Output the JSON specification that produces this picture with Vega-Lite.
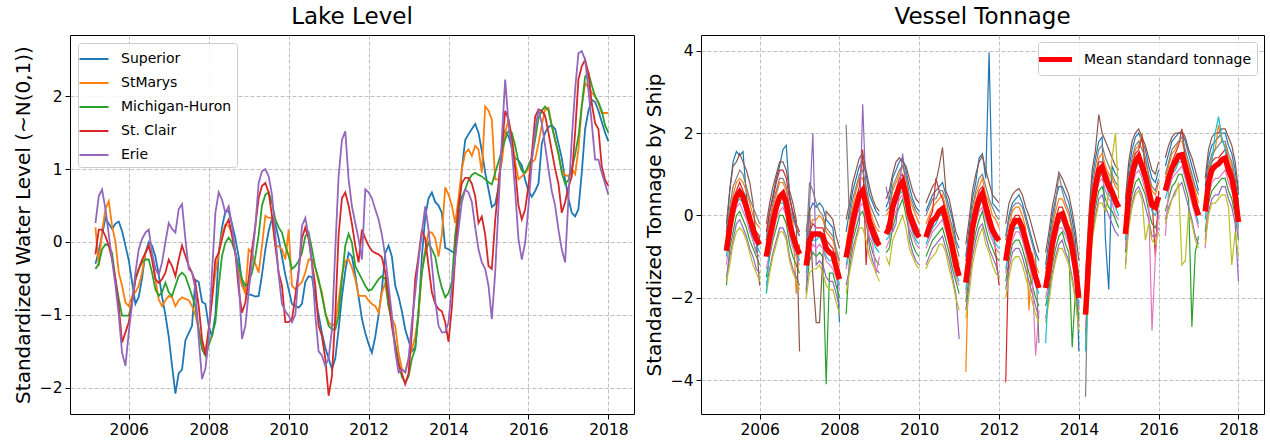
{
"$schema": "https://vega.github.io/schema/vega-lite/v6.json",
"padding": {"left": 12, "right": 2, "top": 5, "bottom": 2},
"spacing": 8,
"config": {
 "font": "DejaVu Sans",
 "view": {"stroke": "#000", "strokeWidth": 1},
 "axis": {"labelFont": "DejaVu Sans", "titleFont": "DejaVu Sans", "labelFontSize": 15.5, "titleFontSize": 20, "titleFontWeight": "normal", "labelColor": "#000", "titleColor": "#000", "tickColor": "#000", "tickSize": 5, "tickWidth": 1, "labelPadding": 3, "gridColor": "#b0b0b0", "gridDash": [4, 2], "gridWidth": 0.8, "domain": false},
 "title": {"font": "DejaVu Sans", "fontSize": 23, "fontWeight": "normal", "color": "#000", "offset": 6},
 "legend": {"labelFont": "DejaVu Sans", "labelFontSize": 14, "labelColor": "#000", "labelLimit": 400}
},
"hconcat": [
{
 "width": 564, "height": 379,
 "title": "Lake Level",
 "data": {"values": [
{"t":2005.167,"a":-0.30,"b":0.20,"c":-0.37,"d":-0.17,"e":0.26},
{"t":2005.25,"a":-0.12,"b":-0.33,"c":-0.30,"d":0.17,"e":0.63},
{"t":2005.333,"a":0.10,"b":0.15,"c":-0.10,"d":0.17,"e":0.72},
{"t":2005.417,"a":0.33,"b":0.45,"c":-0.03,"d":0.08,"e":0.45},
{"t":2005.5,"a":0.25,"b":0.56,"c":-0.05,"d":-0.05,"e":0.10},
{"t":2005.583,"a":0.18,"b":0.22,"c":-0.15,"d":-0.24,"e":-0.25},
{"t":2005.667,"a":0.25,"b":0.00,"c":-0.51,"d":-0.51,"e":-0.60},
{"t":2005.75,"a":0.28,"b":-0.42,"c":-0.78,"d":-0.88,"e":-1.00},
{"t":2005.833,"a":0.15,"b":-0.60,"c":-1.01,"d":-1.38,"e":-1.52},
{"t":2005.917,"a":-0.05,"b":-0.83,"c":-1.01,"d":-1.24,"e":-1.70},
{"t":2006.0,"a":-0.25,"b":-0.88,"c":-1.01,"d":-1.10,"e":-1.24},
{"t":2006.083,"a":-0.55,"b":-0.74,"c":-0.83,"d":-0.83,"e":-0.85},
{"t":2006.167,"a":-0.85,"b":-0.69,"c":-0.51,"d":-0.51,"e":-0.42},
{"t":2006.25,"a":-0.75,"b":-0.60,"c":-0.37,"d":-0.37,"e":-0.10},
{"t":2006.333,"a":-0.50,"b":-0.42,"c":-0.28,"d":-0.24,"e":0.04},
{"t":2006.417,"a":-0.15,"b":-0.15,"c":-0.24,"d":-0.15,"e":0.13},
{"t":2006.5,"a":0.00,"b":-0.05,"c":-0.24,"d":-0.05,"e":0.17},
{"t":2006.583,"a":-0.05,"b":-0.19,"c":-0.42,"d":-0.24,"e":-0.15},
{"t":2006.667,"a":-0.20,"b":-0.51,"c":-0.65,"d":-0.51,"e":-0.37},
{"t":2006.75,"a":-0.45,"b":-0.79,"c":-0.74,"d":-0.56,"e":-0.45},
{"t":2006.833,"a":-0.75,"b":-0.88,"c":-0.69,"d":-0.51,"e":-0.28},
{"t":2006.917,"a":-1.00,"b":-0.80,"c":-0.56,"d":-0.42,"e":0.00},
{"t":2007.0,"a":-1.30,"b":-0.74,"c":-0.69,"d":-0.24,"e":0.26},
{"t":2007.083,"a":-1.70,"b":-0.76,"c":-0.74,"d":-0.33,"e":0.18},
{"t":2007.167,"a":-2.08,"b":-0.88,"c":-0.60,"d":-0.47,"e":0.13},
{"t":2007.25,"a":-1.80,"b":-0.80,"c":-0.47,"d":-0.24,"e":0.45},
{"t":2007.333,"a":-1.75,"b":-0.76,"c":-0.42,"d":-0.05,"e":0.52},
{"t":2007.417,"a":-1.35,"b":-0.78,"c":-0.47,"d":-0.19,"e":0.04},
{"t":2007.5,"a":-1.25,"b":-0.80,"c":-0.60,"d":-0.33,"e":-0.37},
{"t":2007.583,"a":-1.15,"b":-0.88,"c":-0.74,"d":-0.42,"e":-0.42},
{"t":2007.667,"a":-0.52,"b":-1.00,"c":-0.88,"d":-0.56,"e":-0.65},
{"t":2007.75,"a":-0.55,"b":-1.20,"c":-1.20,"d":-0.88,"e":-1.33},
{"t":2007.833,"a":-0.82,"b":-1.42,"c":-1.47,"d":-1.33,"e":-1.88},
{"t":2007.917,"a":-0.85,"b":-1.50,"c":-1.56,"d":-1.55,"e":-1.74},
{"t":2008.0,"a":-1.15,"b":-1.20,"c":-1.42,"d":-1.20,"e":-1.33},
{"t":2008.083,"a":-1.30,"b":-0.80,"c":-1.28,"d":-0.78,"e":-0.42},
{"t":2008.167,"a":-1.00,"b":-0.42,"c":-1.10,"d":-0.24,"e":0.40},
{"t":2008.25,"a":-0.15,"b":-0.15,"c":-0.60,"d":-0.15,"e":0.68},
{"t":2008.333,"a":0.20,"b":0.10,"c":-0.19,"d":0.04,"e":0.58},
{"t":2008.417,"a":0.42,"b":0.24,"c":-0.01,"d":0.22,"e":0.40},
{"t":2008.5,"a":0.42,"b":0.22,"c":0.06,"d":0.31,"e":0.49},
{"t":2008.583,"a":0.25,"b":0.12,"c":-0.01,"d":0.08,"e":0.22},
{"t":2008.667,"a":0.05,"b":-0.15,"c":-0.15,"d":-0.15,"e":-0.15},
{"t":2008.75,"a":-0.20,"b":-0.42,"c":-0.33,"d":-0.65,"e":-0.51},
{"t":2008.833,"a":-0.55,"b":-0.60,"c":-0.51,"d":-0.97,"e":-1.33},
{"t":2008.917,"a":-0.70,"b":-0.70,"c":-0.60,"d":-0.83,"e":-1.15},
{"t":2009.0,"a":-0.72,"b":-0.10,"c":-0.56,"d":-0.51,"e":-0.69},
{"t":2009.083,"a":-0.73,"b":-0.15,"c":-0.42,"d":-0.10,"e":-0.25},
{"t":2009.167,"a":-0.75,"b":-0.30,"c":-0.20,"d":0.22,"e":0.22},
{"t":2009.25,"a":-0.74,"b":-0.42,"c":0.10,"d":0.60,"e":0.81},
{"t":2009.333,"a":-0.45,"b":-0.05,"c":0.50,"d":0.77,"e":0.97},
{"t":2009.417,"a":-0.10,"b":0.36,"c":0.65,"d":0.81,"e":1.00},
{"t":2009.5,"a":0.15,"b":0.33,"c":0.68,"d":0.68,"e":0.90},
{"t":2009.583,"a":0.32,"b":0.33,"c":0.54,"d":0.36,"e":0.65},
{"t":2009.667,"a":0.25,"b":-0.05,"c":0.31,"d":-0.05,"e":0.10},
{"t":2009.75,"a":0.05,"b":-0.06,"c":0.20,"d":-0.42,"e":-0.45},
{"t":2009.833,"a":-0.20,"b":-0.10,"c":0.13,"d":-0.60,"e":-0.85},
{"t":2009.917,"a":-0.45,"b":-0.24,"c":-0.05,"d":-1.10,"e":-0.95},
{"t":2010.0,"a":-0.65,"b":0.17,"c":-0.19,"d":-1.10,"e":-1.01},
{"t":2010.083,"a":-0.85,"b":-0.60,"c":-0.37,"d":-1.06,"e":-1.10},
{"t":2010.167,"a":-0.88,"b":-0.65,"c":-0.33,"d":-0.74,"e":-1.00},
{"t":2010.25,"a":-0.90,"b":-0.60,"c":-0.26,"d":-0.40,"e":-0.42},
{"t":2010.333,"a":-0.85,"b":-0.55,"c":-0.15,"d":0.05,"e":0.22},
{"t":2010.417,"a":-0.55,"b":-0.42,"c":0.08,"d":0.20,"e":0.33},
{"t":2010.5,"a":-0.47,"b":-0.24,"c":0.13,"d":0.04,"e":0.08},
{"t":2010.583,"a":-0.48,"b":-0.24,"c":-0.10,"d":-0.28,"e":-0.30},
{"t":2010.667,"a":-0.75,"b":-0.35,"c":-0.35,"d":-0.60,"e":-1.00},
{"t":2010.75,"a":-1.00,"b":-0.55,"c":-0.51,"d":-1.15,"e":-1.50},
{"t":2010.833,"a":-1.25,"b":-0.69,"c":-0.74,"d":-1.29,"e":-1.56},
{"t":2010.917,"a":-1.45,"b":-0.97,"c":-0.97,"d":-1.60,"e":-1.70},
{"t":2011.0,"a":-1.60,"b":-1.10,"c":-1.15,"d":-2.11,"e":-1.60},
{"t":2011.083,"a":-1.74,"b":-1.15,"c":-1.20,"d":-1.84,"e":-1.20},
{"t":2011.167,"a":-1.60,"b":-1.12,"c":-1.20,"d":-1.00,"e":-0.10},
{"t":2011.25,"a":-1.20,"b":-0.80,"c":-1.01,"d":0.10,"e":0.90},
{"t":2011.333,"a":-0.75,"b":-0.45,"c":-0.51,"d":0.60,"e":1.40},
{"t":2011.417,"a":-0.40,"b":-0.26,"c":-0.05,"d":0.68,"e":1.52},
{"t":2011.5,"a":-0.15,"b":-0.24,"c":0.11,"d":0.50,"e":0.86},
{"t":2011.583,"a":-0.20,"b":-0.35,"c":-0.01,"d":0.25,"e":0.49},
{"t":2011.667,"a":-0.45,"b":-0.51,"c":-0.33,"d":-0.05,"e":0.26},
{"t":2011.75,"a":-0.75,"b":-0.74,"c":-0.42,"d":-0.28,"e":0.04},
{"t":2011.833,"a":-1.05,"b":-0.74,"c":-0.51,"d":0.17,"e":-0.24},
{"t":2011.917,"a":-1.25,"b":-0.74,"c":-0.60,"d":0.05,"e":0.72},
{"t":2012.0,"a":-1.40,"b":-0.80,"c":-0.67,"d":-0.05,"e":0.68},
{"t":2012.083,"a":-1.52,"b":-0.85,"c":-0.65,"d":-0.12,"e":0.60},
{"t":2012.167,"a":-1.30,"b":-0.88,"c":-0.58,"d":-0.15,"e":0.45},
{"t":2012.25,"a":-1.00,"b":-0.97,"c":-0.51,"d":-0.17,"e":0.31},
{"t":2012.333,"a":-0.65,"b":-0.70,"c":-0.47,"d":-0.21,"e":0.10},
{"t":2012.417,"a":-0.15,"b":-0.56,"c":-0.50,"d":-0.42,"e":-0.20},
{"t":2012.5,"a":-0.05,"b":-0.88,"c":-0.88,"d":-0.74,"e":-0.60},
{"t":2012.583,"a":-0.20,"b":-1.05,"c":-1.10,"d":-1.15,"e":-1.00},
{"t":2012.667,"a":-0.60,"b":-1.15,"c":-1.40,"d":-1.45,"e":-1.50},
{"t":2012.75,"a":-0.75,"b":-1.52,"c":-1.65,"d":-1.68,"e":-1.79},
{"t":2012.833,"a":-0.95,"b":-1.74,"c":-1.85,"d":-1.80,"e":-1.75},
{"t":2012.917,"a":-1.20,"b":-1.79,"c":-1.93,"d":-1.95,"e":-1.79},
{"t":2013.0,"a":-1.35,"b":-1.60,"c":-1.84,"d":-1.80,"e":-1.60},
{"t":2013.083,"a":-1.50,"b":-1.47,"c":-1.60,"d":-1.24,"e":-1.10},
{"t":2013.167,"a":-1.45,"b":-1.30,"c":-1.47,"d":-0.51,"e":-0.70},
{"t":2013.25,"a":-1.00,"b":-1.00,"c":-0.92,"d":-0.19,"e":-0.25},
{"t":2013.333,"a":-0.20,"b":-0.40,"c":-0.42,"d":0.17,"e":0.13},
{"t":2013.417,"a":0.35,"b":-0.10,"c":-0.15,"d":0.04,"e":0.49},
{"t":2013.5,"a":0.60,"b":0.13,"c":-0.01,"d":-0.33,"e":0.17},
{"t":2013.583,"a":0.68,"b":0.13,"c":-0.10,"d":-0.69,"e":-0.30},
{"t":2013.667,"a":0.55,"b":0.05,"c":-0.20,"d":-0.85,"e":-0.80},
{"t":2013.75,"a":0.50,"b":-0.20,"c":-0.45,"d":-0.92,"e":-1.15},
{"t":2013.833,"a":0.40,"b":0.10,"c":-0.63,"d":-0.95,"e":-1.24},
{"t":2013.917,"a":-0.08,"b":0.75,"c":-0.76,"d":-1.10,"e":-1.24},
{"t":2014.0,"a":-0.10,"b":0.65,"c":-0.70,"d":-1.37,"e":-1.10},
{"t":2014.083,"a":-0.13,"b":0.50,"c":-0.55,"d":-0.90,"e":-0.60},
{"t":2014.167,"a":-0.15,"b":0.26,"c":0.10,"d":-0.20,"e":-0.20},
{"t":2014.25,"a":0.30,"b":0.60,"c":0.45,"d":0.50,"e":0.17},
{"t":2014.333,"a":1.00,"b":1.00,"c":0.62,"d":0.81,"e":0.55},
{"t":2014.417,"a":1.40,"b":1.22,"c":0.72,"d":0.88,"e":0.72},
{"t":2014.5,"a":1.48,"b":1.27,"c":0.85,"d":0.88,"e":0.68},
{"t":2014.583,"a":1.55,"b":1.18,"c":0.92,"d":0.80,"e":0.55},
{"t":2014.667,"a":1.62,"b":1.32,"c":0.95,"d":0.63,"e":0.20},
{"t":2014.75,"a":1.50,"b":1.27,"c":0.92,"d":0.26,"e":-0.10},
{"t":2014.833,"a":1.25,"b":0.95,"c":0.90,"d":0.35,"e":-0.28},
{"t":2014.917,"a":0.95,"b":1.86,"c":0.86,"d":0.10,"e":-0.37},
{"t":2015.0,"a":0.72,"b":1.80,"c":0.82,"d":-0.33,"e":-0.60},
{"t":2015.083,"a":0.48,"b":1.68,"c":0.79,"d":-0.37,"e":-1.06},
{"t":2015.167,"a":0.52,"b":0.86,"c":0.95,"d":0.30,"e":-0.42},
{"t":2015.25,"a":0.75,"b":0.86,"c":1.10,"d":0.77,"e":0.49},
{"t":2015.333,"a":1.25,"b":1.10,"c":1.25,"d":1.28,"e":1.41},
{"t":2015.417,"a":1.52,"b":1.50,"c":1.41,"d":1.80,"e":2.23},
{"t":2015.5,"a":1.45,"b":1.68,"c":1.52,"d":1.68,"e":1.63},
{"t":2015.583,"a":1.30,"b":1.45,"c":1.50,"d":1.41,"e":1.27},
{"t":2015.667,"a":1.15,"b":1.10,"c":1.32,"d":1.00,"e":0.70},
{"t":2015.75,"a":1.12,"b":0.86,"c":1.10,"d":0.50,"e":0.04},
{"t":2015.833,"a":1.05,"b":0.90,"c":0.98,"d":0.31,"e":-0.24},
{"t":2015.917,"a":0.85,"b":0.95,"c":0.95,"d":0.45,"e":-0.01},
{"t":2016.0,"a":0.70,"b":1.00,"c":1.05,"d":0.77,"e":0.49},
{"t":2016.083,"a":0.62,"b":1.09,"c":1.15,"d":1.20,"e":1.09},
{"t":2016.167,"a":0.70,"b":1.13,"c":1.40,"d":1.72,"e":1.54},
{"t":2016.25,"a":0.80,"b":1.35,"c":1.70,"d":1.82,"e":1.82},
{"t":2016.333,"a":1.35,"b":1.60,"c":1.80,"d":1.80,"e":1.63},
{"t":2016.417,"a":1.50,"b":1.82,"c":1.86,"d":1.73,"e":1.32},
{"t":2016.5,"a":1.58,"b":1.84,"c":1.80,"d":1.50,"e":1.00},
{"t":2016.583,"a":1.60,"b":1.60,"c":1.59,"d":1.25,"e":0.70},
{"t":2016.667,"a":1.55,"b":1.40,"c":1.40,"d":1.00,"e":0.50},
{"t":2016.75,"a":1.35,"b":1.20,"c":1.22,"d":0.80,"e":0.17},
{"t":2016.833,"a":1.15,"b":0.98,"c":0.95,"d":0.40,"e":-0.10},
{"t":2016.917,"a":0.85,"b":0.92,"c":0.80,"d":0.55,"e":-0.28},
{"t":2017.0,"a":0.60,"b":0.90,"c":0.85,"d":0.75,"e":0.60},
{"t":2017.083,"a":0.40,"b":1.00,"c":1.00,"d":0.90,"e":1.41},
{"t":2017.167,"a":0.35,"b":0.93,"c":1.20,"d":1.50,"e":2.09},
{"t":2017.25,"a":0.45,"b":1.27,"c":1.45,"d":2.23,"e":2.59},
{"t":2017.333,"a":0.95,"b":1.86,"c":1.86,"d":2.41,"e":2.62},
{"t":2017.417,"a":1.55,"b":2.18,"c":2.27,"d":2.50,"e":2.50},
{"t":2017.5,"a":1.80,"b":2.12,"c":2.32,"d":2.32,"e":2.09},
{"t":2017.583,"a":1.95,"b":2.05,"c":2.15,"d":1.90,"e":1.63},
{"t":2017.667,"a":1.92,"b":2.00,"c":2.00,"d":1.63,"e":1.13},
{"t":2017.75,"a":1.80,"b":1.90,"c":1.92,"d":1.55,"e":1.13},
{"t":2017.833,"a":1.65,"b":1.77,"c":1.80,"d":1.04,"e":0.95},
{"t":2017.917,"a":1.50,"b":1.77,"c":1.60,"d":0.85,"e":0.80},
{"t":2018.0,"a":1.38,"b":1.77,"c":1.50,"d":0.77,"e":0.65}
 ]},
 "transform": [{"fold": ["a", "b", "c", "d", "e"], "as": ["k", "v"]}],
 "mark": {"type": "line", "strokeWidth": 1.8, "clip": true},
 "encoding": {
  "x": {"field": "t", "type": "quantitative", "scale": {"domain": [2004.53, 2018.64], "nice": false, "zero": false}, "axis": {"values": [2006, 2008, 2010, 2012, 2014, 2016, 2018], "format": "d", "title": null}},
  "y": {"field": "v", "type": "quantitative", "scale": {"domain": [-2.36, 2.84], "nice": false, "zero": false}, "axis": {"values": [-2, -1, 0, 1, 2], "title": "Standardized Water Level (~N(0,1))", "titlePadding": 6}},
  "color": {"field": "k", "type": "nominal", "scale": {"domain": ["a", "b", "c", "d", "e"], "range": ["#1f77b4", "#ff7f0e", "#2ca02c", "#d62728", "#9467bd"]},
   "legend": {"orient": "top-left", "title": null, "offset": 8, "fillColor": "rgba(255,255,255,0.85)", "strokeColor": "#cccccc", "cornerRadius": 3, "padding": 5, "rowPadding": 6, "symbolType": "M-1.45,0H1.45", "symbolSize": 400, "symbolStrokeWidth": 2, "labelOffset": 16,
    "labelExpr": "datum.label=='a'?'Superior':datum.label=='b'?'StMarys':datum.label=='c'?'Michigan-Huron':datum.label=='d'?'St. Clair':'Erie'"}}
 }
},
{
 "width": 563, "height": 379,
 "title": "Vessel Tonnage",
 "data": {"values": [
{"t":2005.167,"y":2005,"m":-0.86,"a":-0.4,"b":-0.5,"c":-1.7,"d":-0.7,"e":-1.5,"f":-0.2,"g":-1.2,"h":-0.4,"i":-1.6,"j":-1.0},
{"t":2005.25,"y":2005,"m":-0.3,"a":0.6,"b":0.1,"c":-0.8,"d":-0.1,"e":-1.0,"f":0.6,"g":-0.6,"h":0.2,"i":-1.2,"j":-0.4},
{"t":2005.333,"y":2005,"m":0.15,"a":1.3,"b":0.5,"c":-0.4,"d":0.4,"e":-0.6,"f":1.2,"g":-0.1,"h":0.7,"i":-0.7,"j":0.0},
{"t":2005.417,"y":2005,"m":0.45,"a":1.55,"b":0.8,"c":0.0,"d":0.6,"e":-0.2,"f":1.3,"g":0.2,"h":0.9,"i":-0.4,"j":0.3},
{"t":2005.5,"y":2005,"m":0.57,"a":1.45,"b":0.9,"c":0.1,"d":0.8,"e":-0.1,"f":1.5,"g":0.3,"h":1.1,"i":-0.3,"j":0.4},
{"t":2005.583,"y":2005,"m":0.45,"a":1.55,"b":0.8,"c":-0.1,"d":0.6,"e":-0.3,"f":1.3,"g":0.1,"h":1.0,"i":-0.4,"j":0.3},
{"t":2005.667,"y":2005,"m":0.2,"a":0.5,"b":0.6,"c":-0.3,"d":0.4,"e":-0.5,"f":1.1,"g":-0.1,"h":0.7,"i":-0.6,"j":0.0},
{"t":2005.75,"y":2005,"m":-0.08,"a":-0.3,"b":0.3,"c":-0.6,"d":0.1,"e":-0.8,"f":0.8,"g":-0.4,"h":0.4,"i":-0.9,"j":-0.2},
{"t":2005.833,"y":2005,"m":-0.33,"a":-0.6,"b":0.0,"c":-0.8,"d":-0.2,"e":-1.0,"f":0.3,"g":-0.6,"h":0.2,"i":-1.2,"j":-0.5},
{"t":2005.917,"y":2005,"m":-0.57,"a":-0.9,"b":-0.2,"c":-1.0,"d":-0.4,"e":-1.3,"f":-0.6,"g":-0.9,"h":0.0,"i":-1.4,"j":-0.7},
{"t":2006.0,"y":2005,"m":-0.71,"a":-0.5,"b":-0.3,"c":-1.2,"d":-0.5,"e":-1.4,"f":-1.7,"g":-1.0,"h":-0.2,"i":-1.6,"j":-0.9},
{"t":2006.167,"y":2006,"m":-1.0,"a":-0.6,"b":-0.7,"c":-1.5,"d":-0.4,"e":-1.7,"f":-0.2,"g":-1.3,"h":-0.6,"i":-1.9,"j":-1.9},
{"t":2006.25,"y":2006,"m":-0.55,"a":0.1,"b":-0.2,"c":-1.0,"d":0.1,"e":-1.3,"f":0.3,"g":-0.9,"h":-0.1,"i":-1.4,"j":-0.8},
{"t":2006.333,"y":2006,"m":-0.15,"a":0.5,"b":0.2,"c":-0.6,"d":0.4,"e":-0.9,"f":0.7,"g":-0.5,"h":0.3,"i":-1.0,"j":-0.3},
{"t":2006.417,"y":2006,"m":0.2,"a":0.9,"b":0.5,"c":-0.3,"d":0.8,"e":-0.6,"f":1.0,"g":-0.1,"h":0.6,"i":-0.7,"j":0.0},
{"t":2006.5,"y":2006,"m":0.45,"a":1.2,"b":0.8,"c":0.0,"d":1.1,"e":-0.3,"f":1.3,"g":0.1,"h":0.9,"i":-0.4,"j":0.3},
{"t":2006.583,"y":2006,"m":0.53,"a":1.6,"b":0.8,"c":0.0,"d":1.1,"e":-0.3,"f":1.3,"g":0.2,"h":0.9,"i":-0.4,"j":0.3},
{"t":2006.667,"y":2006,"m":0.3,"a":1.7,"b":0.6,"c":-0.2,"d":0.9,"e":-0.5,"f":1.1,"g":0.0,"h":0.7,"i":-0.6,"j":0.1},
{"t":2006.75,"y":2006,"m":-0.2,"a":0.5,"b":0.1,"c":-0.7,"d":0.4,"e":-1.0,"f":0.6,"g":-0.5,"h":0.2,"i":-1.1,"j":-0.4},
{"t":2006.833,"y":2006,"m":-0.5,"a":0.0,"b":-0.2,"c":-1.0,"d":0.1,"e":-1.3,"f":0.3,"g":-0.8,"h":-0.1,"i":-1.4,"j":-0.7},
{"t":2006.917,"y":2006,"m":-0.75,"a":-0.3,"b":-1.9,"c":-1.2,"d":-0.2,"e":-1.5,"f":-0.1,"g":-1.0,"h":-0.3,"i":-1.6,"j":-0.9},
{"t":2007.0,"y":2006,"m":-0.94,"a":-0.5,"b":-0.7,"c":-1.4,"d":-0.4,"e":-1.7,"f":-3.3,"g":-1.2,"h":-0.5,"i":-1.8,"j":-1.1},
{"t":2007.167,"y":2007,"m":-1.22,"a":-0.8,"b":-0.9,"c":-1.8,"d":-1.0,"e":-1.9,"f":-0.4,"g":-1.5,"h":-0.7,"i":-2.0,"j":-1.4},
{"t":2007.25,"y":2007,"m":-0.6,"a":0.1,"b":-0.3,"c":-1.1,"d":-0.4,"e":0.2,"f":0.2,"g":-0.9,"h":0.8,"i":-1.4,"j":-0.7},
{"t":2007.333,"y":2007,"m":-0.45,"a":0.3,"b":-0.1,"c":-0.9,"d":-0.2,"e":2.0,"f":-1.5,"g":-0.7,"h":0.6,"i":-1.3,"j":-0.6},
{"t":2007.417,"y":2007,"m":-0.45,"a":0.2,"b":-0.1,"c":-1.0,"d":-0.3,"e":-1.2,"f":-2.6,"g":-0.8,"h":0.3,"i":-1.3,"j":-0.6},
{"t":2007.5,"y":2007,"m":-0.45,"a":0.3,"b":0.0,"c":-0.9,"d":-0.3,"e":-1.1,"f":-2.6,"g":-0.7,"h":0.1,"i":-1.2,"j":-0.5},
{"t":2007.583,"y":2007,"m":-0.5,"a":0.2,"b":-0.1,"c":-1.0,"d":-0.3,"e":-1.2,"f":-1.0,"g":-0.8,"h":0.0,"i":-1.4,"j":-0.7},
{"t":2007.667,"y":2007,"m":-0.8,"a":-0.1,"b":-0.4,"c":-4.1,"d":-0.6,"e":-1.5,"f":0.1,"g":-1.1,"h":-0.3,"i":-1.7,"j":-1.0},
{"t":2007.75,"y":2007,"m":-0.9,"a":-0.2,"b":-0.5,"c":-1.4,"d":-0.7,"e":-1.6,"f":0.0,"g":-1.2,"h":-0.4,"i":-1.8,"j":-1.1},
{"t":2007.833,"y":2007,"m":-0.95,"a":-0.3,"b":-0.6,"c":-1.4,"d":-0.8,"e":-1.6,"f":-0.1,"g":-1.3,"h":-0.5,"i":-1.8,"j":-1.1},
{"t":2007.917,"y":2007,"m":-1.25,"a":-1.0,"b":-0.9,"c":-1.7,"d":-1.1,"e":-1.9,"f":-0.5,"g":-1.5,"h":-0.8,"i":-2.1,"j":-1.4},
{"t":2008.0,"y":2007,"m":-1.55,"a":-2.6,"b":-1.2,"c":-2.0,"d":-1.4,"e":-2.2,"f":-0.8,"g":-1.8,"h":-1.1,"i":-2.4,"j":-1.7},
{"t":2008.167,"y":2008,"m":-1.02,"a":-0.4,"b":-0.7,"c":-2.4,"d":-0.9,"e":-1.7,"f":-0.1,"g":-1.3,"h":2.2,"i":-1.9,"j":-1.2},
{"t":2008.25,"y":2008,"m":-0.6,"a":0.1,"b":-0.2,"c":-1.1,"d":-0.4,"e":-1.3,"f":0.3,"g":-0.9,"h":-0.1,"i":-1.4,"j":-0.8},
{"t":2008.333,"y":2008,"m":-0.15,"a":0.6,"b":0.2,"c":-0.6,"d":0.0,"e":-0.8,"f":0.8,"g":-0.5,"h":0.4,"i":-1.0,"j":-0.3},
{"t":2008.417,"y":2008,"m":0.2,"a":0.9,"b":0.6,"c":-0.3,"d":0.4,"e":-0.5,"f":1.1,"g":-0.1,"h":0.7,"i":-0.6,"j":0.0},
{"t":2008.5,"y":2008,"m":0.5,"a":1.2,"b":0.9,"c":0.0,"d":0.7,"e":-0.2,"f":1.4,"g":0.2,"h":1.0,"i":-0.3,"j":0.4},
{"t":2008.583,"y":2008,"m":0.61,"a":1.3,"b":0.9,"c":0.1,"d":1.6,"e":2.7,"f":1.5,"g":0.3,"h":1.1,"i":-0.3,"j":0.5},
{"t":2008.667,"y":2008,"m":0.25,"a":1.0,"b":0.6,"c":-0.2,"d":-1.2,"e":0.5,"f":1.1,"g":-0.1,"h":0.7,"i":-0.6,"j":0.1},
{"t":2008.75,"y":2008,"m":-0.15,"a":0.5,"b":0.2,"c":-0.6,"d":0.0,"e":-0.8,"f":0.7,"g":-0.5,"h":0.3,"i":-1.0,"j":-0.3},
{"t":2008.833,"y":2008,"m":-0.4,"a":0.3,"b":-0.1,"c":-0.9,"d":-0.2,"e":-1.1,"f":0.4,"g":-0.7,"h":0.1,"i":-1.2,"j":-0.6},
{"t":2008.917,"y":2008,"m":-0.6,"a":0.1,"b":-0.3,"c":-1.1,"d":-0.4,"e":-1.3,"f":0.2,"g":-1.4,"h":-0.1,"i":-1.4,"j":-0.8},
{"t":2009.0,"y":2008,"m":-0.73,"a":0.0,"b":-0.4,"c":-1.2,"d":-0.6,"e":-1.4,"f":0.1,"g":-1.0,"h":-0.3,"i":-1.6,"j":-0.9},
{"t":2009.167,"y":2009,"m":-0.45,"a":0.2,"b":0.0,"c":-0.9,"d":-0.3,"e":0.7,"f":0.4,"g":-0.8,"h":0.1,"i":-1.0,"j":-0.6},
{"t":2009.25,"y":2009,"m":-0.3,"a":0.4,"b":0.1,"c":-0.8,"d":-0.1,"e":0.3,"f":0.6,"g":-0.6,"h":0.2,"i":-1.2,"j":-0.5},
{"t":2009.333,"y":2009,"m":0.2,"a":0.9,"b":0.6,"c":-0.3,"d":0.4,"e":-0.4,"f":1.0,"g":-0.1,"h":0.7,"i":-0.6,"j":0.0},
{"t":2009.417,"y":2009,"m":0.45,"a":1.1,"b":0.8,"c":0.0,"d":0.6,"e":-0.2,"f":1.3,"g":0.1,"h":0.9,"i":-0.4,"j":0.3},
{"t":2009.5,"y":2009,"m":0.7,"a":1.3,"b":1.0,"c":0.2,"d":0.9,"e":0.6,"f":1.4,"g":0.4,"h":1.1,"i":-0.2,"j":0.5},
{"t":2009.583,"y":2009,"m":0.82,"a":1.4,"b":1.2,"c":0.4,"d":1.0,"e":1.5,"f":1.3,"g":0.5,"h":1.2,"i":0.0,"j":0.6},
{"t":2009.667,"y":2009,"m":0.5,"a":1.1,"b":0.9,"c":0.0,"d":0.7,"e":0.6,"f":1.2,"g":0.2,"h":1.0,"i":-0.3,"j":0.3},
{"t":2009.75,"y":2009,"m":0.05,"a":0.7,"b":0.4,"c":-0.4,"d":0.2,"e":-0.6,"f":0.9,"g":-0.3,"h":0.5,"i":-0.8,"j":-0.1},
{"t":2009.833,"y":2009,"m":-0.2,"a":0.4,"b":0.2,"c":-0.7,"d":0.0,"e":-0.9,"f":0.6,"g":-0.5,"h":0.3,"i":-1.0,"j":-0.4},
{"t":2009.917,"y":2009,"m":-0.4,"a":0.2,"b":0.0,"c":-0.9,"d":-0.2,"e":-1.1,"f":0.4,"g":-0.7,"h":0.1,"i":-1.2,"j":-0.6},
{"t":2010.0,"y":2009,"m":-0.53,"a":0.1,"b":-0.2,"c":-1.0,"d":-0.4,"e":-1.2,"f":0.3,"g":-0.8,"h":0.0,"i":-1.3,"j":-0.7},
{"t":2010.167,"y":2010,"m":-0.53,"a":0.1,"b":-0.2,"c":-1.0,"d":-0.4,"e":-1.2,"f":0.3,"g":-0.8,"h":0.0,"i":-1.3,"j":-0.7},
{"t":2010.25,"y":2010,"m":-0.3,"a":0.3,"b":0.0,"c":-0.8,"d":-0.1,"e":-1.0,"f":0.5,"g":-0.6,"h":0.2,"i":-1.1,"j":-0.5},
{"t":2010.333,"y":2010,"m":-0.12,"a":0.5,"b":0.2,"c":-0.6,"d":0.1,"e":-0.8,"f":0.7,"g":-0.4,"h":0.4,"i":-1.0,"j":-0.3},
{"t":2010.417,"y":2010,"m":-0.05,"a":0.6,"b":0.3,"c":-0.5,"d":0.9,"e":-0.7,"f":0.8,"g":-0.3,"h":0.4,"i":-0.9,"j":-0.2},
{"t":2010.5,"y":2010,"m":0.1,"a":0.7,"b":0.4,"c":-0.4,"d":0.6,"e":-0.6,"f":1.2,"g":-0.2,"h":0.6,"i":-0.7,"j":0.0},
{"t":2010.583,"y":2010,"m":0.16,"a":0.8,"b":0.5,"c":-0.3,"d":0.4,"e":-0.5,"f":1.65,"g":-0.1,"h":0.6,"i":-0.7,"j":0.0},
{"t":2010.667,"y":2010,"m":-0.1,"a":0.5,"b":0.2,"c":-0.6,"d":0.1,"e":-0.8,"f":0.6,"g":-0.4,"h":0.4,"i":-0.9,"j":-0.3},
{"t":2010.75,"y":2010,"m":-0.45,"a":0.2,"b":-0.1,"c":-0.9,"d":-0.3,"e":-1.1,"f":0.4,"g":-0.7,"h":0.0,"i":-1.3,"j":-0.6},
{"t":2010.833,"y":2010,"m":-0.8,"a":-0.1,"b":-0.4,"c":-1.3,"d":-0.6,"e":-1.5,"f":0.0,"g":-1.1,"h":-0.3,"i":-1.6,"j":-1.0},
{"t":2010.917,"y":2010,"m":-1.2,"a":-0.6,"b":-0.9,"c":-1.6,"d":-1.0,"e":-1.9,"f":-0.4,"g":-1.5,"h":-0.7,"i":-2.0,"j":-1.4},
{"t":2011.0,"y":2010,"m":-1.47,"a":-0.8,"b":-1.2,"c":-1.9,"d":-1.3,"e":-3.0,"f":-0.6,"g":-1.7,"h":-1.0,"i":-2.3,"j":-1.6},
{"t":2011.167,"y":2011,"m":-1.63,"a":-1.0,"b":-3.8,"c":-2.1,"d":-1.5,"e":-2.3,"f":-0.7,"g":-1.9,"h":-1.1,"i":-2.5,"j":-1.8},
{"t":2011.25,"y":2011,"m":-1.0,"a":-0.3,"b":-0.7,"c":-1.5,"d":-0.8,"e":-1.7,"f":-0.1,"g":-1.3,"h":-0.5,"i":-1.9,"j":-1.2},
{"t":2011.333,"y":2011,"m":-0.3,"a":0.4,"b":0.0,"c":-0.8,"d":-0.1,"e":-1.0,"f":0.6,"g":-0.6,"h":0.2,"i":-1.2,"j":-0.5},
{"t":2011.417,"y":2011,"m":0.1,"a":0.8,"b":0.5,"c":-0.4,"d":0.3,"e":-0.6,"f":1.0,"g":-0.2,"h":0.6,"i":-0.8,"j":-0.1},
{"t":2011.5,"y":2011,"m":0.4,"a":1.4,"b":0.7,"c":-0.1,"d":0.6,"e":-0.3,"f":1.3,"g":0.1,"h":0.9,"i":-0.5,"j":0.2},
{"t":2011.583,"y":2011,"m":0.53,"a":1.5,"b":0.9,"c":0.1,"d":0.7,"e":-0.2,"f":1.45,"g":0.2,"h":1.0,"i":-0.3,"j":0.4},
{"t":2011.667,"y":2011,"m":0.2,"a":0.9,"b":0.5,"c":-0.3,"d":0.4,"e":-0.5,"f":1.1,"g":-0.1,"h":0.7,"i":-0.7,"j":0.0},
{"t":2011.75,"y":2011,"m":-0.1,"a":3.96,"b":0.3,"c":-0.6,"d":0.1,"e":-0.8,"f":0.8,"g":-0.4,"h":0.4,"i":-0.9,"j":-0.3},
{"t":2011.833,"y":2011,"m":-0.35,"a":0.3,"b":0.0,"c":-0.8,"d":-0.2,"e":-1.0,"f":0.5,"g":-0.6,"h":0.2,"i":-1.2,"j":-0.5},
{"t":2011.917,"y":2011,"m":-0.5,"a":0.2,"b":-0.1,"c":-1.0,"d":-0.9,"e":-1.2,"f":0.4,"g":-0.8,"h":0.0,"i":-1.4,"j":-0.7},
{"t":2012.0,"y":2011,"m":-0.61,"a":0.1,"b":-0.3,"c":-1.1,"d":-1.7,"e":-1.5,"f":0.3,"g":-0.9,"h":-0.1,"i":-1.5,"j":-0.8},
{"t":2012.167,"y":2012,"m":-1.1,"a":-0.5,"b":-0.8,"c":-1.6,"d":-4.05,"e":-1.8,"f":-0.2,"g":-1.4,"h":-0.6,"i":-2.0,"j":-1.3},
{"t":2012.25,"y":2012,"m":-0.6,"a":0.0,"b":-0.3,"c":-1.1,"d":-0.5,"e":-1.3,"f":0.3,"g":-0.9,"h":-0.1,"i":-1.5,"j":-0.8},
{"t":2012.333,"y":2012,"m":-0.25,"a":0.3,"b":0.1,"c":-0.7,"d":-0.1,"e":-0.9,"f":0.5,"g":-0.6,"h":0.2,"i":-1.1,"j":-0.4},
{"t":2012.417,"y":2012,"m":-0.12,"a":0.4,"b":0.2,"c":-0.6,"d":0.0,"e":-0.8,"f":0.6,"g":-0.4,"h":0.3,"i":-1.0,"j":-0.3},
{"t":2012.5,"y":2012,"m":-0.12,"a":0.5,"b":0.2,"c":-0.6,"d":0.0,"e":-0.8,"f":0.65,"g":-0.4,"h":0.3,"i":-1.0,"j":-0.3},
{"t":2012.583,"y":2012,"m":-0.3,"a":0.3,"b":0.0,"c":-0.8,"d":-0.2,"e":-1.0,"f":0.5,"g":-0.6,"h":0.2,"i":-1.2,"j":-0.5},
{"t":2012.667,"y":2012,"m":-0.6,"a":0.0,"b":-0.3,"c":-1.1,"d":-0.5,"e":-1.3,"f":0.2,"g":-0.9,"h":-0.1,"i":-1.5,"j":-0.8},
{"t":2012.75,"y":2012,"m":-0.9,"a":-0.3,"b":-2.3,"c":-1.4,"d":-0.8,"e":-1.6,"f":0.0,"g":-1.2,"h":-0.4,"i":-1.8,"j":-1.1},
{"t":2012.833,"y":2012,"m":-1.2,"a":-0.6,"b":-0.9,"c":-1.7,"d":-1.1,"e":-1.9,"f":-0.3,"g":-1.5,"h":-0.7,"i":-2.1,"j":-1.4},
{"t":2012.917,"y":2012,"m":-1.5,"a":-0.9,"b":-1.2,"c":-2.0,"d":-1.4,"e":-2.2,"f":-0.6,"g":-3.4,"h":-1.0,"i":-2.4,"j":-1.7},
{"t":2013.0,"y":2012,"m":-1.76,"a":-1.1,"b":-1.4,"c":-2.2,"d":-1.6,"e":-2.5,"f":-0.9,"g":-2.3,"h":-3.1,"i":-2.6,"j":-1.9},
{"t":2013.167,"y":2013,"m":-1.76,"a":-1.2,"b":-1.4,"c":-2.2,"d":-1.6,"e":-2.5,"f":-0.9,"g":-2.0,"h":-1.3,"i":-2.6,"j":-3.1},
{"t":2013.25,"y":2013,"m":-1.3,"a":-0.6,"b":-0.9,"c":-1.8,"d":-1.2,"e":-2.0,"f":-0.4,"g":-1.6,"h":-0.8,"i":-2.1,"j":-1.5},
{"t":2013.333,"y":2013,"m":-0.7,"a":0.0,"b":-0.3,"c":-1.2,"d":-0.6,"e":-1.4,"f":0.2,"g":-1.0,"h":-0.2,"i":-1.5,"j":-0.9},
{"t":2013.417,"y":2013,"m":-0.3,"a":0.4,"b":0.1,"c":-0.8,"d":-0.1,"e":-1.0,"f":0.6,"g":-0.6,"h":0.3,"i":-1.1,"j":-0.5},
{"t":2013.5,"y":2013,"m":0.0,"a":0.7,"b":0.4,"c":-0.5,"d":0.2,"e":-0.7,"f":1.05,"g":-0.3,"h":1.0,"i":-0.8,"j":-0.2},
{"t":2013.583,"y":2013,"m":0.04,"a":0.7,"b":0.4,"c":-0.4,"d":0.2,"e":-0.6,"f":0.9,"g":-0.3,"h":0.6,"i":-0.8,"j":-0.1},
{"t":2013.667,"y":2013,"m":-0.2,"a":0.5,"b":0.2,"c":-0.7,"d":0.0,"e":-0.9,"f":0.7,"g":-0.5,"h":0.3,"i":-1.0,"j":-0.4},
{"t":2013.75,"y":2013,"m":-0.4,"a":0.3,"b":0.0,"c":-0.9,"d":-0.3,"e":-1.1,"f":0.5,"g":-0.7,"h":0.1,"i":-1.2,"j":-0.6},
{"t":2013.833,"y":2013,"m":-0.8,"a":-0.1,"b":-0.4,"c":-3.2,"d":-0.6,"e":-1.5,"f":0.1,"g":-1.1,"h":-0.3,"i":-1.6,"j":-1.0},
{"t":2013.917,"y":2013,"m":-1.3,"a":-0.6,"b":-0.9,"c":-1.8,"d":-1.1,"e":-2.0,"f":-0.4,"g":-1.6,"h":-0.8,"i":-2.1,"j":-1.5},
{"t":2014.0,"y":2013,"m":-2.0,"a":-3.3,"b":-1.6,"c":-2.5,"d":-1.8,"e":-2.7,"f":-1.1,"g":-2.3,"h":-1.5,"i":-2.8,"j":-2.2},
{"t":2014.167,"y":2014,"m":-2.41,"a":-1.8,"b":-2.1,"c":-2.9,"d":-2.2,"e":-3.1,"f":-1.5,"g":-2.7,"h":-4.4,"i":-3.2,"j":-3.3},
{"t":2014.25,"y":2014,"m":-1.0,"a":-0.3,"b":-0.6,"c":-1.5,"d":-0.8,"e":-1.7,"f":0.0,"g":-1.3,"h":-0.5,"i":-1.9,"j":-1.2},
{"t":2014.333,"y":2014,"m":0.2,"a":0.9,"b":0.6,"c":-0.3,"d":0.4,"e":-0.5,"f":1.1,"g":-0.1,"h":0.7,"i":-0.6,"j":0.0},
{"t":2014.417,"y":2014,"m":0.7,"a":1.4,"b":1.0,"c":0.2,"d":0.9,"e":0.0,"f":1.6,"g":0.4,"h":1.2,"i":-0.1,"j":0.5},
{"t":2014.5,"y":2014,"m":1.1,"a":1.8,"b":1.4,"c":0.6,"d":1.3,"e":0.4,"f":2.45,"g":0.8,"h":1.6,"i":0.3,"j":0.9},
{"t":2014.583,"y":2014,"m":1.18,"a":1.9,"b":1.5,"c":0.7,"d":1.3,"e":0.5,"f":2.0,"g":0.9,"h":1.7,"i":0.3,"j":1.0},
{"t":2014.667,"y":2014,"m":0.9,"a":-0.6,"b":1.2,"c":0.4,"d":1.1,"e":0.2,"f":1.8,"g":0.6,"h":1.4,"i":0.1,"j":0.8},
{"t":2014.75,"y":2014,"m":0.7,"a":-1.8,"b":1.0,"c":0.2,"d":0.9,"e":0.0,"f":1.6,"g":0.4,"h":1.2,"i":0.6,"j":0.5},
{"t":2014.833,"y":2014,"m":0.55,"a":1.2,"b":0.9,"c":0.1,"d":0.7,"e":-0.2,"f":1.4,"g":0.3,"h":1.0,"i":1.4,"j":0.4},
{"t":2014.917,"y":2014,"m":0.35,"a":1.0,"b":0.7,"c":-0.1,"d":0.5,"e":-0.4,"f":1.2,"g":0.0,"h":0.8,"i":2.0,"j":0.2},
{"t":2015.0,"y":2014,"m":0.2,"a":0.9,"b":0.6,"c":-0.3,"d":0.3,"e":-0.5,"f":1.1,"g":-0.1,"h":0.7,"i":0.4,"j":0.0},
{"t":2015.167,"y":2015,"m":-0.45,"a":0.2,"b":0.0,"c":-0.9,"d":-0.3,"e":-1.2,"f":0.4,"g":-0.8,"h":0.1,"i":-1.3,"j":-0.6},
{"t":2015.25,"y":2015,"m":0.5,"a":1.1,"b":0.8,"c":0.0,"d":0.7,"e":-0.2,"f":1.3,"g":0.2,"h":0.9,"i":-0.3,"j":0.3},
{"t":2015.333,"y":2015,"m":1.0,"a":1.6,"b":1.3,"c":0.5,"d":1.2,"e":0.3,"f":1.8,"g":0.7,"h":1.4,"i":0.2,"j":0.8},
{"t":2015.417,"y":2015,"m":1.3,"a":1.9,"b":1.6,"c":0.8,"d":1.5,"e":0.6,"f":2.0,"g":1.0,"h":1.7,"i":0.5,"j":1.1},
{"t":2015.5,"y":2015,"m":1.43,"a":2.0,"b":1.7,"c":0.9,"d":1.6,"e":0.7,"f":2.1,"g":1.1,"h":1.8,"i":0.6,"j":1.3},
{"t":2015.583,"y":2015,"m":1.2,"a":1.8,"b":2.0,"c":0.7,"d":1.9,"e":0.5,"f":1.9,"g":0.9,"h":1.6,"i":0.4,"j":1.0},
{"t":2015.667,"y":2015,"m":0.95,"a":1.6,"b":1.3,"c":0.5,"d":1.1,"e":0.2,"f":1.7,"g":0.6,"h":1.4,"i":-0.6,"j":0.8},
{"t":2015.75,"y":2015,"m":0.6,"a":1.2,"b":0.9,"c":0.1,"d":0.8,"e":-0.1,"f":1.4,"g":0.3,"h":1.0,"i":-0.2,"j":0.4},
{"t":2015.833,"y":2015,"m":0.25,"a":0.9,"b":0.6,"c":-0.2,"d":0.4,"e":-0.5,"f":1.1,"g":-2.8,"h":0.7,"i":-0.6,"j":0.1},
{"t":2015.917,"y":2015,"m":0.2,"a":0.8,"b":0.5,"c":-0.3,"d":-1.0,"e":-0.5,"f":1.0,"g":-1.0,"h":0.6,"i":-0.7,"j":0.0},
{"t":2016.0,"y":2015,"m":0.45,"a":1.1,"b":0.8,"c":0.0,"d":0.6,"e":-0.3,"f":1.3,"g":0.1,"h":0.9,"i":-0.4,"j":0.3},
{"t":2016.167,"y":2016,"m":0.6,"a":1.2,"b":0.9,"c":0.1,"d":0.8,"e":-0.1,"f":1.4,"g":-0.5,"h":1.0,"i":-0.2,"j":0.4},
{"t":2016.25,"y":2016,"m":0.9,"a":1.5,"b":1.2,"c":0.4,"d":1.0,"e":0.2,"f":1.7,"g":0.6,"h":1.3,"i":0.1,"j":0.7},
{"t":2016.333,"y":2016,"m":1.15,"a":1.8,"b":1.5,"c":0.7,"d":1.3,"e":0.4,"f":1.9,"g":0.9,"h":1.6,"i":0.4,"j":1.0},
{"t":2016.417,"y":2016,"m":1.3,"a":1.9,"b":1.6,"c":0.8,"d":1.5,"e":0.6,"f":2.0,"g":1.0,"h":1.7,"i":0.5,"j":1.1},
{"t":2016.5,"y":2016,"m":1.45,"a":2.0,"b":1.8,"c":1.0,"d":1.7,"e":0.7,"f":2.0,"g":1.1,"h":1.8,"i":0.8,"j":1.3},
{"t":2016.583,"y":2016,"m":1.47,"a":2.0,"b":1.8,"c":1.0,"d":2.1,"e":0.8,"f":2.05,"g":1.2,"h":1.9,"i":-1.2,"j":1.3},
{"t":2016.667,"y":2016,"m":1.2,"a":1.8,"b":1.5,"c":0.7,"d":1.4,"e":0.5,"f":1.9,"g":0.9,"h":1.6,"i":-1.1,"j":1.0},
{"t":2016.75,"y":2016,"m":0.9,"a":1.5,"b":1.2,"c":0.4,"d":1.0,"e":0.2,"f":1.6,"g":0.6,"h":1.3,"i":0.1,"j":0.7},
{"t":2016.833,"y":2016,"m":0.6,"a":1.2,"b":0.9,"c":-2.7,"d":0.8,"e":-0.1,"f":1.4,"g":0.3,"h":1.0,"i":-0.2,"j":0.4},
{"t":2016.917,"y":2016,"m":0.25,"a":0.9,"b":0.6,"c":-0.9,"d":0.4,"e":-0.5,"f":1.1,"g":0.0,"h":0.7,"i":-0.6,"j":0.1},
{"t":2017.0,"y":2016,"m":0.0,"a":0.6,"b":0.3,"c":-0.5,"d":0.1,"e":-0.7,"f":0.8,"g":-0.3,"h":0.5,"i":-0.8,"j":-0.2},
{"t":2017.167,"y":2017,"m":0.1,"a":0.7,"b":0.4,"c":-0.4,"d":0.3,"e":-0.6,"f":0.9,"g":-0.8,"h":0.5,"i":-0.7,"j":-0.1},
{"t":2017.25,"y":2017,"m":0.8,"a":1.4,"b":1.1,"c":0.3,"d":1.0,"e":0.1,"f":1.6,"g":0.5,"h":1.2,"i":0.0,"j":0.7},
{"t":2017.333,"y":2017,"m":1.1,"a":1.7,"b":1.4,"c":0.6,"d":1.3,"e":0.4,"f":1.9,"g":0.8,"h":1.5,"i":0.3,"j":1.3},
{"t":2017.417,"y":2017,"m":1.2,"a":1.8,"b":1.6,"c":0.7,"d":1.4,"e":0.5,"f":2.0,"g":0.9,"h":1.6,"i":0.3,"j":2.0},
{"t":2017.5,"y":2017,"m":1.25,"a":1.9,"b":2.2,"c":0.8,"d":1.4,"e":0.5,"f":2.0,"g":0.9,"h":1.7,"i":0.4,"j":2.4},
{"t":2017.583,"y":2017,"m":1.35,"a":2.0,"b":1.8,"c":0.9,"d":1.5,"e":0.7,"f":2.1,"g":1.0,"h":1.8,"i":0.5,"j":1.9},
{"t":2017.667,"y":2017,"m":1.39,"a":2.0,"b":1.7,"c":0.9,"d":1.6,"e":0.7,"f":2.1,"g":1.1,"h":1.8,"i":0.5,"j":1.6},
{"t":2017.75,"y":2017,"m":1.1,"a":1.7,"b":1.4,"c":0.6,"d":1.3,"e":0.4,"f":1.9,"g":0.8,"h":1.5,"i":0.2,"j":1.0},
{"t":2017.833,"y":2017,"m":0.9,"a":1.5,"b":1.2,"c":0.4,"d":1.1,"e":0.2,"f":1.7,"g":0.6,"h":1.3,"i":-1.2,"j":0.8},
{"t":2017.917,"y":2017,"m":0.5,"a":1.1,"b":0.8,"c":0.0,"d":0.7,"e":-0.2,"f":1.3,"g":0.2,"h":0.9,"i":-0.4,"j":0.4},
{"t":2018.0,"y":2017,"m":-0.16,"a":0.5,"b":0.2,"c":-0.6,"d":0.0,"e":-1.6,"f":0.6,"g":-0.5,"h":0.3,"i":-1.0,"j":-0.3}
 ]},
 "layer": [
  {
   "transform": [{"fold": ["a", "b", "c", "d", "e", "f", "g", "h", "i", "j"], "as": ["ship", "v"]}],
   "mark": {"type": "line", "strokeWidth": 1.2, "clip": true},
   "encoding": {
    "x": {"field": "t", "type": "quantitative", "scale": {"domain": [2004.53, 2018.64], "nice": false, "zero": false}, "axis": {"values": [2006, 2008, 2010, 2012, 2014, 2016, 2018], "format": "d", "title": null}},
    "y": {"field": "v", "type": "quantitative", "scale": {"domain": [-4.82, 4.38], "nice": false, "zero": false}, "axis": {"values": [-4, -2, 0, 2, 4], "title": "Standardized Tonnage by Ship", "titlePadding": 6}},
    "color": {"field": "ship", "type": "nominal", "scale": {"domain": ["a", "b", "c", "d", "e", "f", "g", "h", "i", "j"], "range": ["#1f77b4", "#ff7f0e", "#2ca02c", "#d62728", "#9467bd", "#8c564b", "#e377c2", "#7f7f7f", "#bcbd22", "#17becf"]}, "legend": null},
    "detail": {"field": "y", "type": "nominal"}
   }
  },
  {
   "mark": {"type": "line", "strokeWidth": 5.5, "clip": true},
   "encoding": {
    "x": {"field": "t", "type": "quantitative"},
    "y": {"field": "m", "type": "quantitative", "axis": {"values": [-4, -2, 0, 2, 4], "title": "Standardized Tonnage by Ship", "titlePadding": 6}},
    "detail": {"field": "y", "type": "nominal"},
    "color": {"datum": "Mean standard tonnage", "scale": {"range": ["#ff0000"]},
     "legend": {"orient": "top-right", "title": null, "offset": 7, "fillColor": "rgba(255,255,255,0.85)", "strokeColor": "#cccccc", "cornerRadius": 3, "padding": 5, "symbolType": "M-1.65,0H1.65", "symbolSize": 400, "symbolStrokeWidth": 5, "labelOffset": 16, "labelLimit": 400}}
   }
  }
 ],
 "resolve": {"scale": {"color": "independent"}}
}
]
}
